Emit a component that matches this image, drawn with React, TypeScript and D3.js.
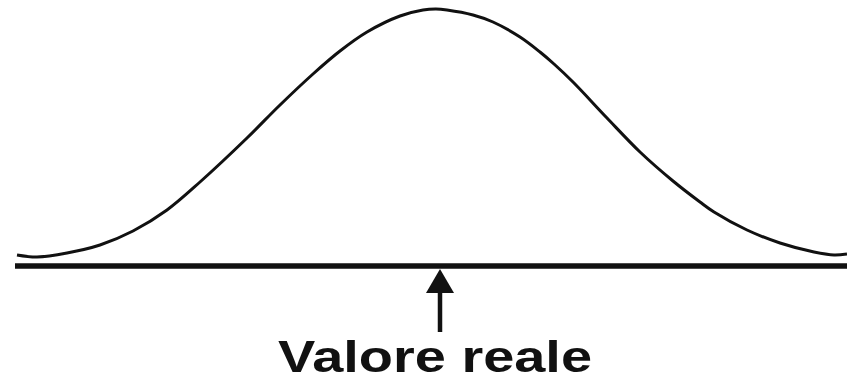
import React from "react";
import * as d3 from "d3";

// Measurement axis positions (arbitrary units along the horizontal axis)
const positions = [17, 37, 67, 100, 133, 167, 200, 247, 280, 313, 340, 367, 400, 423, 436, 447, 473, 493, 520, 540, 554, 573, 607, 640, 673, 700, 714, 747, 780, 814, 834, 847];
// Frequency of measurements at each position (height above the axis)
const frequency = [11, 9, 13, 21, 35, 56, 84, 128, 161, 192, 215, 234, 250, 256, 257, 256, 251, 244, 229, 214, 202, 184, 148, 114, 85, 64, 54, 36, 23, 14, 11, 12];
// Where the true value sits on the axis
const trueValue = 440;
const label = "Valore reale";

const W = 847;
const H = 377;

export default function App() {
  const x = d3.scaleLinear().domain([0, 847]).range([0, W]);
  const y = d3.scaleLinear().domain([0, 256]).range([266, 10]);

  const pts: [number, number][] = positions.map((p, i) => [p, frequency[i]]);
  const line = d3
    .line<[number, number]>()
    .x((d) => x(d[0]))
    .y((d) => y(d[1]))
    .curve(d3.curveCatmullRom.alpha(0.5));

  const axisY = y(0);
  const ax = x(trueValue);
  const tipY = 269;
  const headBase = 293;
  const shaftEnd = 332;

  return (
    <svg
      width={W}
      height={H}
      viewBox={`0 0 ${W} ${H}`}
      style={{ position: "absolute", left: 0, top: 0, background: "#fff" }}
    >
      <rect x={0} y={0} width={W} height={H} fill="#fff" />
      {/* distribution curve */}
      <path d={line(pts) ?? ""} fill="none" stroke="#111" strokeWidth={3} strokeLinejoin="round" />
      {/* horizontal axis */}
      <line x1={x(15)} x2={W} y1={axisY} y2={axisY} stroke="#111" strokeWidth={5.5} />
      {/* arrow pointing at the true value */}
      <line x1={ax} x2={ax} y1={headBase - 2} y2={shaftEnd} stroke="#111" strokeWidth={4.5} />
      <path
        d={`M${ax},${tipY} L${ax - 14},${headBase} L${ax + 14},${headBase} Z`}
        fill="#111"
      />
      <text
        x={435}
        y={372}
        textAnchor="middle"
        fontFamily="'Liberation Sans', Arial, sans-serif"
        fontWeight="bold"
        fontSize={45}
        textLength={314}
        lengthAdjust="spacingAndGlyphs"
        fill="#111"
      >
        {label}
      </text>
    </svg>
  );
}
